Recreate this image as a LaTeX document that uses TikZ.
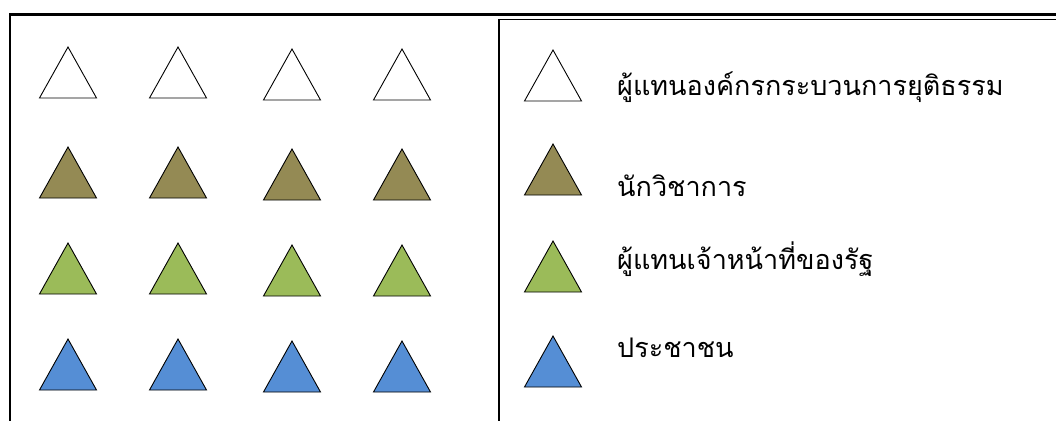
\documentclass[tikz,border=0pt]{standalone}
\usepackage{fontspec}
\newfontfamily\thaifont[Script=Thai]{Loma}
\definecolor{olivetri}{HTML}{948A54}
\definecolor{greentri}{HTML}{9BBB59}
\definecolor{bluetri}{HTML}{558ED5}
\begin{document}
\begin{tikzpicture}[x=1pt,y=1pt,
  tri/.style={draw=black,line width=0.9pt,line join=miter},
  lbl/.style={anchor=base west,inner sep=0pt,font=\thaifont\fontsize{27}{30}\selectfont},
  pics/trishape/.style={code={\path[tri,#1] (-28.5,-51) -- (0,0) -- (28.5,-51) -- cycle;}}]
\useasboundingbox (0,0) rectangle (1056,421);
\fill[white] (0,0) rectangle (1056,421);
% frames
\coordinate (ftop) at (1056,406.5);
\coordinate (fcorner) at (10,406.5);
\coordinate (fbot) at (10,0);
\draw[line width=2.2pt] (ftop) -- (fcorner) -- (fbot);
\coordinate (ltop) at (1056,401.5);
\coordinate (lcorner) at (499,401.5);
\coordinate (lbot) at (499,0);
\draw[line width=1.4pt] (ltop) -- (lcorner) -- (lbot);
% grid
\foreach \x/\dy in {68/0,178/0,292/2,402/2}{
  \pic at (\x,421-47-\dy) {trishape={fill=white}};
  \pic at (\x,421-147-\dy) {trishape={fill=olivetri}};
  \pic at (\x,421-243-\dy) {trishape={fill=greentri}};
  \pic at (\x,421-339-\dy) {trishape={fill=bluetri}};
}
% legend
\pic at (553,421-50) {trishape={fill=white}};
\pic at (553,421-144) {trishape={fill=olivetri}};
\pic at (553,421-241) {trishape={fill=greentri}};
\pic at (553,421-336) {trishape={fill=bluetri}};
\node[lbl] (t1) at (617,421-96) {ผู้แทนองค์กรกระบวนการยุติธรรม};
\node[lbl] (t2) at (617,421-196) {นักวิชาการ};
\node[lbl] (t3) at (617,421-269) {ผู้แทนเจ้าหน้าที่ของรัฐ};
\node[lbl] (t4) at (617,421-357) {ประชาชน};
\end{tikzpicture}
\end{document}
